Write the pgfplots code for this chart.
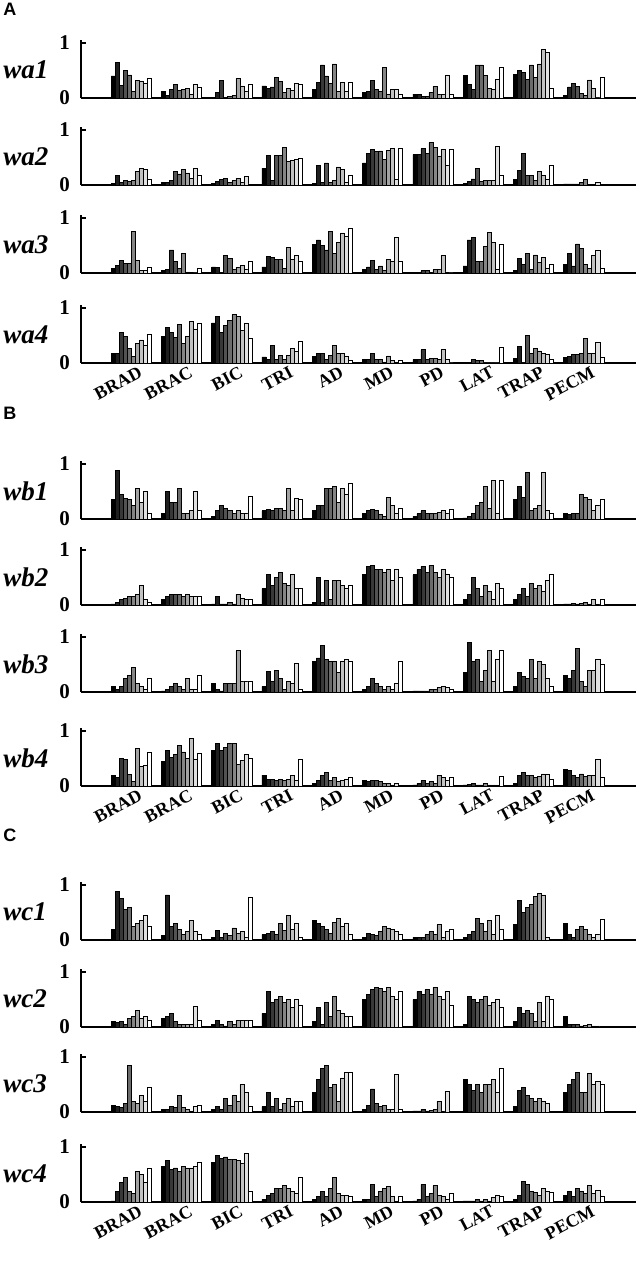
\documentclass[border=0pt]{standalone}
\usepackage{pgfplots}
\pgfplotsset{compat=1.18}
\usepackage{pgfplotstable}
\usepackage{fontspec}
\setmainfont{Liberation Serif}
\newfontfamily\arial{Liberation Sans}

\definecolor{s1}{gray}{0}
\definecolor{s2}{gray}{0.12}
\definecolor{s3}{gray}{0.22}
\definecolor{s4}{gray}{0.32}
\definecolor{s5}{gray}{0.42}
\definecolor{s6}{gray}{0.52}
\definecolor{s7}{gray}{0.64}
\definecolor{s8}{gray}{0.76}
\definecolor{s9}{gray}{0.88}
\definecolor{s10}{gray}{1}

% rows: BRAD BRAC BIC TRI AD MD PD LAT TRAP PECM
\pgfplotstableread{
b1 b2 b3 b4 b5 b6 b7 b8 b9 b10
0.40 0.64 0.23 0.50 0.42 0.12 0.32 0.31 0.27 0.35
0.12 0.05 0.15 0.24 0.14 0.15 0.18 0.06 0.25 0.20
0.00 0.10 0.32 0.00 0.03 0.05 0.35 0.22 0.12 0.25
0.22 0.18 0.20 0.37 0.30 0.10 0.18 0.14 0.26 0.25
0.15 0.28 0.60 0.40 0.26 0.62 0.12 0.28 0.12 0.28
0.10 0.12 0.32 0.15 0.12 0.56 0.06 0.16 0.15 0.07
0.07 0.07 0.03 0.03 0.10 0.21 0.07 0.07 0.42 0.07
0.41 0.25 0.15 0.60 0.60 0.41 0.18 0.15 0.34 0.55
0.43 0.50 0.47 0.34 0.60 0.37 0.62 0.88 0.83 0.18
0.05 0.20 0.26 0.21 0.09 0.05 0.33 0.17 0.00 0.38
}\waone
\pgfplotstableread{
b1 b2 b3 b4 b5 b6 b7 b8 b9 b10
0.03 0.17 0.04 0.09 0.06 0.08 0.25 0.30 0.28 0.10
0.04 0.05 0.08 0.25 0.20 0.28 0.22 0.12 0.30 0.18
0.03 0.06 0.10 0.12 0.05 0.08 0.12 0.05 0.15 0.02
0.30 0.54 0.08 0.54 0.54 0.68 0.43 0.45 0.47 0.48
0.03 0.36 0.05 0.40 0.05 0.08 0.33 0.29 0.05 0.18
0.40 0.57 0.64 0.61 0.62 0.46 0.63 0.67 0.10 0.66
0.55 0.55 0.66 0.57 0.77 0.69 0.53 0.65 0.36 0.64
0.03 0.06 0.11 0.30 0.06 0.09 0.09 0.08 0.70 0.18
0.10 0.27 0.58 0.18 0.18 0.09 0.24 0.18 0.10 0.35
0.02 0.02 0.02 0.02 0.05 0.10 0.01 0.01 0.04 0.01
}\watwo
\pgfplotstableread{
b1 b2 b3 b4 b5 b6 b7 b8 b9 b10
0.09 0.14 0.23 0.17 0.18 0.75 0.23 0.04 0.04 0.11
0.04 0.06 0.42 0.21 0.08 0.35 0.02 0.01 0.00 0.08
0.11 0.10 0.00 0.32 0.27 0.06 0.10 0.14 0.06 0.21
0.11 0.30 0.28 0.25 0.24 0.09 0.47 0.24 0.32 0.21
0.52 0.60 0.50 0.42 0.76 0.35 0.55 0.73 0.67 0.82
0.06 0.11 0.23 0.07 0.13 0.05 0.24 0.21 0.64 0.21
0.00 0.01 0.04 0.04 0.01 0.06 0.06 0.32 0.02 0.00
0.13 0.60 0.65 0.21 0.21 0.48 0.74 0.55 0.07 0.52
0.04 0.27 0.15 0.35 0.06 0.33 0.19 0.29 0.09 0.16
0.16 0.36 0.13 0.53 0.44 0.15 0.09 0.32 0.41 0.09
}\wathree
\pgfplotstableread{
b1 b2 b3 b4 b5 b6 b7 b8 b9 b10
0.17 0.17 0.56 0.48 0.27 0.12 0.36 0.42 0.32 0.52
0.48 0.64 0.56 0.47 0.70 0.36 0.48 0.76 0.61 0.73
0.73 0.85 0.55 0.68 0.78 0.88 0.84 0.59 0.73 0.45
0.11 0.06 0.32 0.06 0.14 0.06 0.14 0.27 0.21 0.40
0.12 0.18 0.18 0.07 0.14 0.32 0.18 0.17 0.12 0.05
0.06 0.06 0.18 0.07 0.07 0.02 0.13 0.04 0.02 0.05
0.06 0.06 0.24 0.06 0.08 0.08 0.06 0.24 0.06 0.00
0.00 0.00 0.06 0.05 0.04 0.00 0.00 0.00 0.00 0.28
0.09 0.30 0.00 0.50 0.18 0.26 0.22 0.18 0.15 0.07
0.10 0.12 0.16 0.16 0.18 0.44 0.17 0.17 0.38 0.10
}\wafour
\pgfplotstableread{
b1 b2 b3 b4 b5 b6 b7 b8 b9 b10
0.35 0.88 0.45 0.38 0.35 0.25 0.55 0.30 0.50 0.10
0.10 0.50 0.30 0.30 0.55 0.10 0.10 0.15 0.50 0.15
0.05 0.15 0.25 0.20 0.15 0.10 0.15 0.10 0.10 0.42
0.15 0.18 0.15 0.20 0.20 0.15 0.55 0.15 0.38 0.35
0.15 0.25 0.25 0.55 0.55 0.60 0.30 0.55 0.45 0.65
0.10 0.15 0.18 0.15 0.08 0.05 0.40 0.25 0.10 0.20
0.05 0.10 0.15 0.10 0.10 0.10 0.12 0.15 0.10 0.18
0.02 0.05 0.10 0.25 0.30 0.60 0.20 0.70 0.10 0.70
0.35 0.60 0.40 0.85 0.15 0.20 0.25 0.85 0.15 0.10
0.10 0.08 0.10 0.10 0.45 0.40 0.35 0.15 0.25 0.35
}\wbone
\pgfplotstableread{
b1 b2 b3 b4 b5 b6 b7 b8 b9 b10
0.02 0.05 0.10 0.12 0.15 0.15 0.20 0.35 0.10 0.05
0.10 0.15 0.20 0.20 0.20 0.15 0.20 0.15 0.15 0.15
0.02 0.15 0.02 0.02 0.05 0.02 0.20 0.12 0.10 0.10
0.30 0.55 0.35 0.50 0.60 0.40 0.35 0.55 0.30 0.30
0.05 0.50 0.05 0.45 0.10 0.45 0.45 0.35 0.30 0.35
0.55 0.70 0.72 0.65 0.65 0.60 0.65 0.45 0.65 0.50
0.55 0.65 0.70 0.60 0.72 0.60 0.50 0.65 0.55 0.50
0.10 0.20 0.50 0.30 0.15 0.35 0.25 0.10 0.40 0.30
0.10 0.20 0.30 0.15 0.40 0.30 0.35 0.25 0.45 0.55
0.02 0.02 0.03 0.02 0.03 0.05 0.02 0.10 0.02 0.10
}\wbtwo
\pgfplotstableread{
b1 b2 b3 b4 b5 b6 b7 b8 b9 b10
0.10 0.05 0.10 0.25 0.30 0.45 0.15 0.10 0.05 0.25
0.02 0.05 0.10 0.15 0.10 0.05 0.25 0.05 0.05 0.30
0.15 0.05 0.02 0.15 0.15 0.15 0.75 0.20 0.20 0.20
0.10 0.38 0.20 0.40 0.25 0.05 0.20 0.15 0.52 0.05
0.55 0.62 0.85 0.60 0.55 0.55 0.35 0.55 0.60 0.55
0.05 0.10 0.25 0.15 0.10 0.05 0.10 0.05 0.15 0.55
0.02 0.02 0.02 0.02 0.05 0.05 0.08 0.10 0.08 0.05
0.35 0.90 0.55 0.60 0.20 0.40 0.75 0.20 0.60 0.75
0.10 0.35 0.28 0.25 0.60 0.25 0.55 0.50 0.25 0.10
0.30 0.25 0.40 0.80 0.20 0.10 0.40 0.40 0.60 0.50
}\wbthree
\pgfplotstableread{
b1 b2 b3 b4 b5 b6 b7 b8 b9 b10
0.20 0.15 0.50 0.48 0.21 0.08 0.68 0.36 0.38 0.62
0.45 0.65 0.52 0.58 0.74 0.62 0.50 0.86 0.48 0.59
0.65 0.78 0.65 0.70 0.78 0.78 0.39 0.47 0.58 0.50
0.20 0.12 0.12 0.10 0.12 0.10 0.12 0.20 0.10 0.48
0.05 0.10 0.20 0.25 0.10 0.15 0.08 0.10 0.12 0.15
0.10 0.08 0.10 0.10 0.08 0.05 0.05 0.02 0.05 0.02
0.02 0.05 0.10 0.05 0.08 0.05 0.20 0.15 0.10 0.15
0.02 0.03 0.05 0.02 0.02 0.05 0.02 0.02 0.02 0.18
0.05 0.20 0.25 0.20 0.20 0.15 0.18 0.22 0.22 0.12
0.30 0.28 0.20 0.15 0.22 0.18 0.20 0.20 0.48 0.15
}\wbfour
\pgfplotstableread{
b1 b2 b3 b4 b5 b6 b7 b8 b9 b10
0.20 0.88 0.75 0.55 0.60 0.25 0.30 0.35 0.45 0.25
0.08 0.82 0.25 0.30 0.20 0.10 0.15 0.35 0.15 0.10
0.05 0.18 0.05 0.12 0.08 0.22 0.12 0.15 0.05 0.78
0.10 0.12 0.15 0.10 0.30 0.18 0.45 0.20 0.30 0.05
0.35 0.30 0.25 0.20 0.12 0.32 0.40 0.25 0.30 0.10
0.05 0.12 0.10 0.08 0.15 0.25 0.22 0.20 0.15 0.10
0.05 0.05 0.05 0.10 0.15 0.10 0.28 0.05 0.15 0.20
0.05 0.10 0.15 0.40 0.30 0.15 0.35 0.10 0.45 0.20
0.28 0.72 0.50 0.60 0.65 0.80 0.85 0.82 0.05 0.00
0.30 0.10 0.05 0.20 0.25 0.20 0.10 0.05 0.10 0.38
}\wcone
\pgfplotstableread{
b1 b2 b3 b4 b5 b6 b7 b8 b9 b10
0.10 0.08 0.10 0.05 0.15 0.20 0.30 0.15 0.20 0.12
0.15 0.20 0.25 0.10 0.05 0.05 0.05 0.05 0.38 0.12
0.05 0.12 0.05 0.02 0.10 0.05 0.12 0.12 0.12 0.12
0.25 0.65 0.45 0.50 0.55 0.45 0.50 0.35 0.50 0.40
0.10 0.35 0.05 0.45 0.20 0.55 0.30 0.25 0.20 0.20
0.50 0.60 0.68 0.72 0.70 0.65 0.72 0.55 0.50 0.65
0.50 0.65 0.60 0.68 0.60 0.72 0.55 0.50 0.65 0.40
0.05 0.55 0.50 0.45 0.50 0.55 0.40 0.45 0.50 0.35
0.10 0.35 0.25 0.30 0.25 0.10 0.45 0.10 0.55 0.50
0.20 0.05 0.05 0.05 0.02 0.03 0.05 0.02 0.02 0.02
}\wctwo
\pgfplotstableread{
b1 b2 b3 b4 b5 b6 b7 b8 b9 b10
0.12 0.10 0.08 0.15 0.85 0.20 0.15 0.30 0.20 0.45
0.05 0.05 0.10 0.08 0.30 0.08 0.05 0.02 0.10 0.12
0.05 0.10 0.05 0.25 0.12 0.30 0.20 0.50 0.35 0.10
0.10 0.35 0.10 0.25 0.05 0.15 0.25 0.10 0.20 0.20
0.35 0.60 0.80 0.85 0.45 0.50 0.20 0.62 0.72 0.72
0.05 0.12 0.42 0.15 0.10 0.12 0.05 0.05 0.68 0.05
0.02 0.02 0.05 0.02 0.03 0.05 0.20 0.02 0.38 0.02
0.60 0.50 0.40 0.50 0.35 0.50 0.50 0.60 0.35 0.80
0.10 0.40 0.45 0.30 0.25 0.20 0.25 0.20 0.15 0.02
0.35 0.50 0.60 0.72 0.35 0.35 0.70 0.50 0.55 0.50
}\wcthree
\pgfplotstableread{
b1 b2 b3 b4 b5 b6 b7 b8 b9 b10
0.02 0.20 0.35 0.45 0.20 0.15 0.55 0.50 0.35 0.62
0.65 0.75 0.60 0.62 0.55 0.65 0.62 0.62 0.65 0.72
0.72 0.85 0.80 0.82 0.78 0.78 0.75 0.70 0.88 0.20
0.05 0.12 0.15 0.25 0.25 0.30 0.25 0.20 0.15 0.45
0.05 0.10 0.20 0.10 0.25 0.45 0.15 0.12 0.12 0.10
0.05 0.05 0.32 0.10 0.20 0.25 0.28 0.10 0.02 0.10
0.02 0.05 0.32 0.10 0.15 0.30 0.12 0.10 0.05 0.15
0.02 0.02 0.02 0.05 0.02 0.05 0.02 0.08 0.12 0.10
0.05 0.12 0.38 0.32 0.20 0.18 0.12 0.25 0.20 0.18
0.12 0.20 0.10 0.25 0.20 0.15 0.30 0.15 0.22 0.10
}\wcfour

\pgfplotsset{
  panel/.style={
    scale only axis, width=277.5pt, height=28.875pt,
    xmin=-7.5, xmax=130.5, ymin=0, ymax=1.05,
    axis lines=left, axis line style={-, line width=0.9pt},
    ytick={0,1}, yticklabels={\textbf{0},\textbf{1}},
    yticklabel style={font=\fontsize{10.5}{11}\selectfont, xshift=-2pt},
    tick align=inside, major tick length=2.5pt,
    ytick style={line width=0.7pt, black},
    xtick={5,17.5,30,42.5,55,67.5,80,92.5,105,117.5},
    xtick style={draw=none},
    xticklabels={},
    anchor=south west,
  },
  xlab/.style={xticklabels={BRAD,BRAC,BIC,TRI,AD,MD,PD,LAT,TRAP,PECM},
    xticklabel style={rotate=28, anchor=north east, inner sep=0.5pt, xshift=3pt, yshift=-2pt, font=\bfseries\fontsize{9}{9}\selectfont}},
}

\newcommand{\panel}[4]{%
 \begin{axis}[panel, at={(40.5pt,{-#2*0.5pt})}, #4]
 \pgfplotsinvokeforeach{1,...,10}{
   \addplot[ybar, bar width=1, bar shift=0, fill=s##1, draw=black, line width=0.3pt] table[x expr=\coordindex*12.5+##1-0.5, y=b##1]{#1};
 }
 \end{axis}
 \node[anchor=west, inner sep=0pt, font=\bfseries\itshape\fontsize{13.5}{14}\selectfont] at (1.5pt,{-(#2-28)*0.5pt}) {#3};
}

\begin{document}
\begin{tikzpicture}
\path[use as bounding box] (0,0) rectangle (320pt,-630.5pt);
\node[anchor=west, inner sep=0pt, font=\arial\bfseries\fontsize{9}{9}\selectfont] at (1.5pt,-4.5pt) {A};
\node[anchor=west, inner sep=0pt, font=\arial\bfseries\fontsize{9}{9}\selectfont] at (1.5pt,-206.5pt) {B};
\node[anchor=west, inner sep=0pt, font=\arial\bfseries\fontsize{9}{9}\selectfont] at (1.5pt,-417.5pt) {C};
\panel{\waone}{98}{wa1}{}
\panel{\watwo}{185}{wa2}{}
\panel{\wathree}{273}{wa3}{}
\panel{\wafour}{363}{wa4}{xlab}
\panel{\wbone}{519}{wb1}{}
\panel{\wbtwo}{605}{wb2}{}
\panel{\wbthree}{692}{wb3}{}
\panel{\wbfour}{786}{wb4}{xlab}
\panel{\wcone}{940}{wc1}{}
\panel{\wctwo}{1027}{wc2}{}
\panel{\wcthree}{1112}{wc3}{}
\panel{\wcfour}{1202}{wc4}{xlab}
\end{tikzpicture}
\end{document}
